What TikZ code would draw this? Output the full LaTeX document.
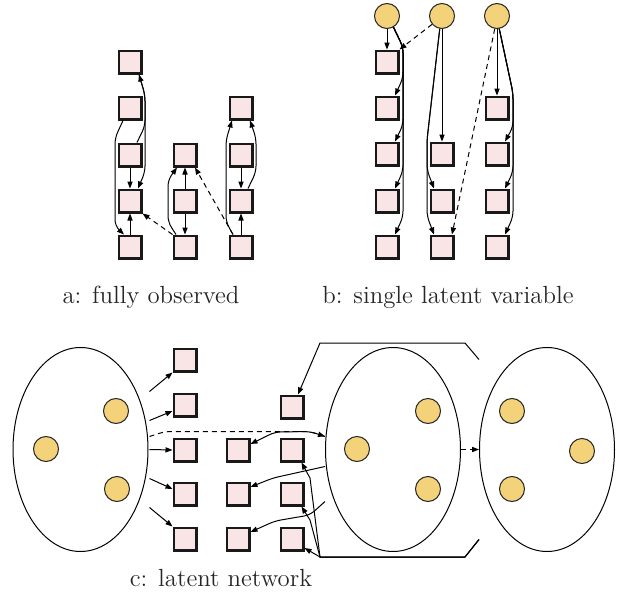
\documentclass[tikz,border=0pt]{standalone}
\usetikzlibrary{shapes.geometric,arrows.meta,calc}
\definecolor{boxfill}{HTML}{F9E5E5}
\definecolor{latentfill}{HTML}{F4D27A}

\begin{document}
\begin{tikzpicture}[x=0.5pt,y=-0.5pt,
  obs/.style={draw=black!90, line width=1.2pt, fill=boxfill, minimum size=11.3pt, inner sep=0pt},
  lat/.style={circle, draw=black!85, line width=0.5pt, fill=latentfill, minimum size=12.5pt, inner sep=0pt},
  grp/.style={ellipse, draw=black, line width=0.5pt, minimum width=67.5pt, minimum height=102pt, inner sep=0pt},
  link/.style={line width=0.5pt, rounded corners=3pt, -{Triangle[length=3.5pt,width=2.6pt]}},
  hlink/.style={link, dash pattern=on 2.5pt off 2pt},
  route/.style={link, sharp corners},
  paneltitle/.style={font=\fontsize{12.4}{15}\selectfont, text=black!85}]
\useasboundingbox (0,0) rectangle (622,594);

% ---------- a: fully observed ----------
\node[obs] (a11) at (130,62) {};
\node[obs] (a12) at (130,108) {};
\node[obs] (a13) at (130,155) {};
\node[obs] (a14) at (130,201) {};
\node[obs] (a15) at (130,247) {};
\node[obs] (a23) at (185,155) {};
\node[obs] (a24) at (185,201) {};
\node[obs] (a25) at (185,247) {};
\node[obs] (a32) at (241,108) {};
\node[obs] (a33) at (241,155) {};
\node[obs] (a34) at (241,201) {};
\node[obs] (a35) at (241,247) {};

\draw[link] ($(a12.south)+(-7,0)$) -- (115,138) -- (115,226) -- ($(a15.north)+(-6,0)$);
\draw[link] ($(a13.north)+(7,0)$) -- (145,126) -- (145,95) -- ($(a11.south)+(9,0)$);
\draw[link] ($(a11.south)+(9,0)$) -- (145,95) -- (145,172) -- ($(a14.north)+(8,0)$);
\draw[link] (a13) -- (a14);
\draw[link] (a15) -- (a14);
\draw[hlink] (a25.north west) -- (a14.south east);
\draw[link] (a24) -- (a23);
\draw[link] (a24) -- (a25);
\draw[link] ($(a25.north)+(-9,0)$) -- (168,222) -- (168,180) -- ($(a23.south)+(-8,0)$);
\draw[hlink] ($(a35.north)+(-8,0)$) -- ($(a23.south)+(10,0)$);
\draw[link] (a35) -- (a34);
\draw[link] (a33) -- (a34);
\draw[link] ($(a35.north)+(-8,0)$) -- (226,222) -- (226,140) -- ($(a32.south)+(-9,0)$);
\draw[link] ($(a34.north)+(7,0)$) -- (256,172) -- (256,138) -- ($(a32.south)+(9,0)$);

\node[paneltitle] (ta) at (151,297) {a: fully observed};

% ---------- b: single latent variable ----------
\node[lat] (b1) at (387,16) {};
\node[lat] (b2) at (442,16) {};
\node[lat] (b3) at (497,16) {};
\node[obs] (b11) at (387,62) {};
\node[obs] (b12) at (387,108) {};
\node[obs] (b13) at (387,154) {};
\node[obs] (b14) at (387,201) {};
\node[obs] (b15) at (387,247) {};
\node[obs] (b23) at (442,154) {};
\node[obs] (b24) at (442,201) {};
\node[obs] (b25) at (442,247) {};
\node[obs] (b32) at (497,108) {};
\node[obs] (b33) at (497,154) {};
\node[obs] (b34) at (497,201) {};
\node[obs] (b35) at (497,247) {};

\draw[link] (b1) -- (b11);
\foreach \t/\y in {b12/78,b13/125,b14/171,b15/217}
  \draw[link] (b1.-60) -- (403,47) -- (403,\y) -- ($(\t.north)+(8,0)$);
\draw[hlink] (b2.-140) -- (b11.north east);
\draw[link] (b2) -- (b23);
\foreach \t/\y in {b24/170,b25/216}
  \draw[link] (b2.-100) -- (427,140) -- (427,\y) -- ($(\t.north)+(-8,0)$);
\draw[hlink] (b3.-100) -- ($(b25.north)+(10,0)$);
\draw[link] (b3) -- (b32);
\foreach \t/\y in {b33/127,b34/172,b35/217}
  \draw[link] (b3.-80) -- (513,93) -- (513,\y) -- ($(\t.north)+(8,0)$);

\node[paneltitle] (tb) at (448,297) {b: single latent variable};

% ---------- c: latent network ----------
\node[grp] (E1) at (80.5,449.5) {};
\node[grp] (E2) at (393,449.5) {};
\node[grp] (E3) at (547,449.5) {};
\node[lat] (l11) at (116,411) {};
\node[lat] (l12) at (46,449) {};
\node[lat] (l13) at (117,489) {};
\node[lat] (l21) at (428,411) {};
\node[lat] (l22) at (357,449) {};
\node[lat] (l23) at (428,489) {};
\node[lat] (l31) at (512,411) {};
\node[lat] (l32) at (582,451) {};
\node[lat] (l33) at (512,489) {};

\node[obs] (c11) at (185,360) {};
\node[obs] (c12) at (185,405) {};
\node[obs] (c13) at (185,450) {};
\node[obs] (c14) at (185,494) {};
\node[obs] (c15) at (185,539) {};
\node[obs] (c21) at (238,450) {};
\node[obs] (c22) at (238,494) {};
\node[obs] (c23) at (238,539) {};
\node[obs] (c3a) at (292,407) {};
\node[obs] (c3b) at (292,450) {};
\node[obs] (c3c) at (292,494) {};
\node[obs] (c3d) at (292,539) {};

\draw[link] ($(E1.east)+(1,-58)$) -- (c11.south west);
\draw[link] ($(E1.east)+(1,-29)$) -- ($(c12.west)+(0,6)$);
\draw[link] ($(E1.east)+(1,0)$) -- (c13.west);
\draw[link] ($(E1.east)+(1,29)$) -- ($(c14.west)+(0,-5)$);
\draw[link] ($(E1.east)+(1,58)$) -- (c15.north west);

\draw[hlink] ($(E1.east)+(1,-13)$) -- (165,431.5) -- (310,431.5) -- ($(E2.west)+(0,-13)$);
\draw[link] ($(E2.west)+(0,-13)$) -- (310,431.5) -- (275,432) -- ($(c21.east)+(0,-6)$);
\draw[link] ($(E2.west)+(0,17)$) -- (273,478) -- ($(c22.east)+(0,-7)$);
\draw[link] ($(E2.west)+(0,52)$) -- (310,515) -- (275,521) -- ($(c23.east)+(0,-7)$);

% routes from the right-hand group around the middle one
\draw[route] ($(E3.west)+(0,-90)$) -- (465,343) -- (320,343) -- ($(c3a.north)+(6,0)$);
\draw[route] ($(E3.west)+(0,90)$) -- (465,557) -- (320,557) -- ($(c3d.east)+(0,9)$);
\draw[route] ($(E3.west)+(0,90)$) -- (465,557) -- (320,557) -- (310,520) -- ($(c3c.south east)+(-3,0)$);
\draw[route] ($(E3.west)+(0,90)$) -- (465,557) -- (320,557) -- (310,478) -- ($(c3b.south east)+(-3,0)$);

\draw[hlink] (E2.east) -- (E3.west);

\node[paneltitle] (tc) at (221,578) {c: latent network};
\end{tikzpicture}
\end{document}
